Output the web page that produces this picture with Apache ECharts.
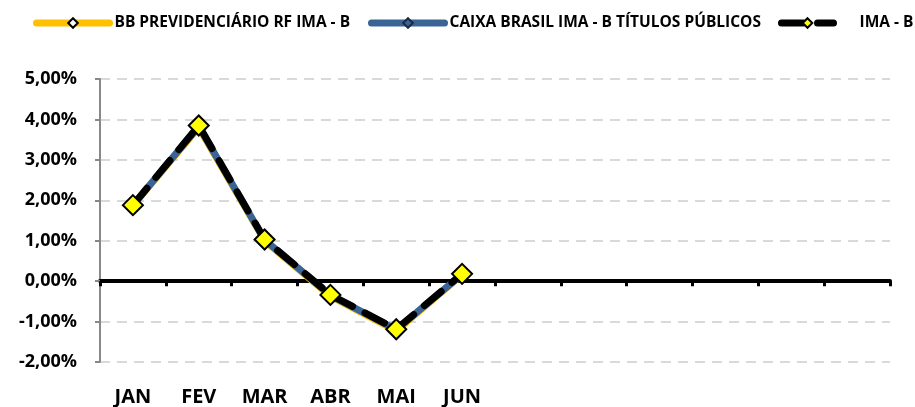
<!DOCTYPE html>
<html><head><meta charset="utf-8">
<script src="https://cdn.jsdelivr.net/npm/echarts@6/dist/echarts.min.js"></script>
<style>html,body{margin:0;padding:0;background:#fff}#c{width:915px;height:407px}</style>
</head><body><div id="c"></div>
<script>
var categories = ['JAN','FEV','MAR','ABR','MAI','JUN','JUL','AGO','SET','OUT','NOV','DEZ'];
var categoryLabels = ['JAN','FEV','MAR','ABR','MAI','JUN','','','','','',''];
var bbPrev = [1.87, 3.80, 1.00, -0.37, -1.23, 0.16, null, null, null, null, null, null];
var caixaBrasil = [1.88, 3.83, 1.02, -0.35, -1.20, 0.17, null, null, null, null, null, null];
var imaB = [1.88, 3.85, 1.03, -0.34, -1.19, 0.18, null, null, null, null, null, null];
var yTicks = [-2, -1, 0, 1, 2, 3, 4, 5];

var FONT = 'Open Sans';
var chart = echarts.init(document.getElementById('c'), null, {renderer:'canvas'});
function fmt(v){ return v.toFixed(2).replace('.', ',') + '%'; }
var legendText = {fontFamily: FONT, fontWeight: 'bold', fontSize: 15.5, color: '#000'};
var legLine = {width: 7, cap: 'round'};
chart.setOption({
  animation: false,
  backgroundColor: '#fff',
  legend: [
    {data:['BB PREVIDENCIÁRIO RF IMA - B'], left: 28, top: 10, itemWidth: 73, itemHeight: 12, textStyle: legendText, lineStyle: legLine},
    {data:['CAIXA BRASIL IMA - B TÍTULOS PÚBLICOS'], left: 363, top: 10, itemWidth: 73, itemHeight: 12, textStyle: legendText, lineStyle: legLine},
    {data:['IMA - B'], left: 773, top: 10, itemWidth: 52, itemHeight: 12, textStyle: Object.assign({padding:[0,0,0,21]}, legendText), lineStyle: legLine}
  ],
  grid: {left: 100, right: 25, top: 79, bottom: 45, containLabel: false},
  xAxis: [
    {type: 'category', data: categories, boundaryGap: true,
     axisLine: {onZero: true, lineStyle: {color: '#000', width: 4}},
     axisTick: {show: true, length: 5, lineStyle: {color: '#000', width: 3}},
     axisLabel: {show: false}, splitLine: {show: false}},
    {type: 'category', data: categoryLabels, boundaryGap: true, position: 'bottom',
     axisLine: {show: false, onZero: false}, axisTick: {show: false},
     axisLabel: {show: true, interval: 0, fontFamily: FONT, fontWeight: 'bold', fontSize: 20, color: '#000', margin: 25},
     splitLine: {show: false}}
  ],
  yAxis: {type: 'value', min: -2, max: 5, interval: 1,
    axisLine: {show: true, lineStyle: {color: '#888', width: 2}},
    axisTick: {show: true, length: 5, lineStyle: {color: '#888', width: 2}},
    axisLabel: {formatter: function(v){ return fmt(v); }, fontFamily: FONT, fontWeight: 'bold', fontSize: 18, color: '#000', margin: 23},
    splitLine: {show: true, lineStyle: {color: '#d9d9d9', width: 2, type: [10, 7]}}
  },
  series: [
    {name: 'BB PREVIDENCIÁRIO RF IMA - B', type: 'line', data: bbPrev, xAxisIndex: 0,
     symbol: 'diamond', symbolSize: 12, showSymbol: true,
     itemStyle: {color: '#FFFFFF', borderColor: '#000', borderWidth: 2},
     lineStyle: {color: '#FFC000', width: 7}},
    {name: 'CAIXA BRASIL IMA - B TÍTULOS PÚBLICOS', type: 'line', data: caixaBrasil, xAxisIndex: 0,
     symbol: 'diamond', symbolSize: 12,
     itemStyle: {color: '#3A6496', borderColor: '#1a2a40', borderWidth: 2},
     lineStyle: {color: '#3A6496', width: 7}},
    {name: 'IMA - B', type: 'line', data: imaB, xAxisIndex: 0,
     symbol: 'diamond', symbolSize: 20,
     itemStyle: {color: '#FFFF00', borderColor: '#000', borderWidth: 2},
     lineStyle: {color: '#000', width: 7, type: [22, 14], cap: 'round'}}
  ]
});
</script></body></html>
